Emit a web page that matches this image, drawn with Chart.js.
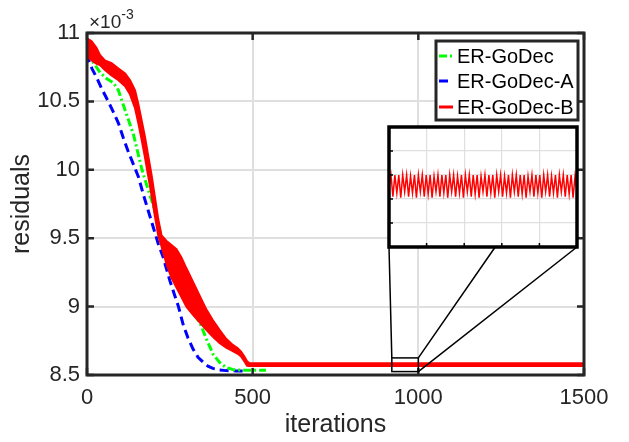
<!DOCTYPE html>
<html><head><meta charset="utf-8">
<script src="https://cdn.jsdelivr.net/npm/chart.js@4.4.1/dist/chart.umd.min.js"></script>
<style>
html,body{margin:0;padding:0;background:#fff;}
#wrap{position:relative;width:629px;height:442px;overflow:hidden;}
#main{position:absolute;left:0;top:0;}
#inset{position:absolute;}
</style></head><body>
<div id="wrap"><canvas id="main" width="629" height="442"></canvas><canvas id="inset"></canvas></div>
<script>
// ---------------- data (residuals in units of 1e-3) ----------------
const seriesNames = ['ER-GoDec', 'ER-GoDec-A', 'ER-GoDec-B'];
const xTicks = [0, 500, 1000, 1500];
const yTicks = [8.5, 9, 9.5, 10, 10.5, 11];
const xLabel = 'iterations';
const yLabel = 'residuals';

const greenIter = [0, 20, 40, 60, 80, 95, 106, 120, 140, 166, 180, 200, 220, 250, 290, 320, 341, 361, 381, 401, 420, 440, 470, 540];
const greenRes  = [10.86, 10.78, 10.71, 10.665, 10.635, 10.58, 10.50, 10.40, 10.26, 10.00, 9.89, 9.74, 9.55, 9.29, 9.07, 8.96, 8.88, 8.76, 8.65, 8.59, 8.555, 8.54, 8.535, 8.535];

const blueIter = [0, 5, 15, 30, 45, 64, 80, 95, 110, 125, 140, 155, 170, 185, 200, 215, 230, 250, 265, 276, 290, 305, 320, 335, 350, 365, 380, 400, 420, 450, 477];
const blueRes  = [10.85, 10.80, 10.74, 10.67, 10.59, 10.50, 10.42, 10.34, 10.23, 10.13, 10.04, 9.95, 9.82, 9.70, 9.58, 9.46, 9.36, 9.19, 9.08, 9.00, 8.87, 8.77, 8.69, 8.63, 8.595, 8.565, 8.548, 8.537, 8.532, 8.53, 8.53];

// ER-GoDec-B oscillates strongly: upper and lower envelope of its band
const redIter  = [0, 14, 29, 39, 54, 74, 95, 115, 130, 145, 155, 165, 175, 185, 195, 205, 215, 225, 240, 255, 270, 285, 300, 320, 340, 360, 380, 400, 420, 440, 455, 465, 475, 483, 490, 500, 1500];
const redUpper = [10.96, 10.94, 10.89, 10.84, 10.80, 10.78, 10.74, 10.705, 10.655, 10.58, 10.48, 10.36, 10.24, 10.10, 9.96, 9.80, 9.64, 9.52, 9.48, 9.45, 9.42, 9.36, 9.28, 9.18, 9.08, 8.98, 8.90, 8.83, 8.765, 8.72, 8.695, 8.67, 8.635, 8.60, 8.588, 8.586, 8.586];
const redLower = [10.83, 10.80, 10.775, 10.765, 10.73, 10.69, 10.655, 10.61, 10.55, 10.45, 10.34, 10.22, 10.09, 9.95, 9.81, 9.66, 9.52, 9.44, 9.31, 9.21, 9.14, 9.07, 9.00, 8.94, 8.885, 8.83, 8.78, 8.735, 8.70, 8.675, 8.655, 8.635, 8.60, 8.567, 8.566, 8.566, 8.566];

// zoomed window (iterations 920-1000) and the ER-GoDec-B samples shown in the inset
const zoomIter = [920, 1000];
const zoomRes  = [8.525, 8.625];
const insetRes = [8.575, 8.585, 8.567, 8.585, 8.570, 8.585, 8.566, 8.585, 8.571, 8.585, 8.567, 8.584, 8.570, 8.585, 8.566, 8.585, 8.571, 8.585, 8.567, 8.585, 8.569, 8.585, 8.566, 8.584, 8.571, 8.585, 8.567, 8.585, 8.570, 8.585, 8.566, 8.585, 8.571, 8.585, 8.567, 8.584, 8.570, 8.585, 8.566, 8.585, 8.571, 8.585, 8.567, 8.585, 8.569, 8.585, 8.566, 8.584, 8.571, 8.585, 8.567, 8.585, 8.570, 8.585, 8.566, 8.585, 8.571, 8.585, 8.567, 8.584, 8.570, 8.585, 8.566, 8.585, 8.571, 8.585, 8.567, 8.585, 8.569, 8.585, 8.566, 8.584, 8.571, 8.585, 8.567, 8.585, 8.570, 8.585, 8.566, 8.585, 8.571, 8.585, 8.567, 8.584, 8.570, 8.585, 8.566, 8.585, 8.571, 8.585, 8.567, 8.585, 8.569, 8.585, 8.566, 8.584, 8.572];

// ---------------- styling / layout ----------------
const FONT = "'Liberation Sans', Arial, Helvetica, sans-serif";
const AX = '#262626';
const GRID = '#dfdfdf';
const C_GREEN = '#00ff00', C_BLUE = '#0000ff', C_RED = '#ff0000';
const INSET = {left: 389, top: 127, right: 577, bottom: 247, pad: 3};

const pts = (xs, ys) => xs.map((v, i) => ({x: v, y: ys[i]}));

const mainDecor = {
  id: 'mainDecor',
  afterDatasetsDraw(chart) {
    const {ctx, chartArea: a, scales: {x, y}} = chart;
    ctx.save();
    // frame
    ctx.strokeStyle = AX;
    ctx.lineWidth = 3;
    ctx.strokeRect(a.left, a.top, a.right - a.left, a.bottom - a.top);
    // inward ticks
    ctx.lineWidth = 2.5;
    ctx.beginPath();
    yTicks.forEach(v => {
      const p = y.getPixelForValue(v);
      ctx.moveTo(a.left, p); ctx.lineTo(a.left + 7, p);
      ctx.moveTo(a.right, p); ctx.lineTo(a.right - 7, p);
    });
    xTicks.forEach(v => {
      const p = x.getPixelForValue(v);
      ctx.moveTo(p, a.bottom); ctx.lineTo(p, a.bottom - 7);
      ctx.moveTo(p, a.top); ctx.lineTo(p, a.top + 7);
    });
    ctx.stroke();
    // zoom rectangle and connectors
    const rx0 = x.getPixelForValue(zoomIter[0]), rx1 = x.getPixelForValue(zoomIter[1]);
    const ry0 = y.getPixelForValue(zoomRes[1]), ry1 = y.getPixelForValue(zoomRes[0]);
    ctx.strokeStyle = '#000';
    ctx.lineWidth = 1.5;
    ctx.strokeRect(rx0, ry0, rx1 - rx0, ry1 - ry0);
    ctx.beginPath();
    ctx.moveTo(rx0, ry0); ctx.lineTo(INSET.left, INSET.bottom);
    ctx.moveTo(rx1, ry0); ctx.lineTo(INSET.left + 0.565 * (INSET.right - INSET.left), INSET.bottom);
    ctx.moveTo(rx1, ry1); ctx.lineTo(INSET.right, INSET.bottom);
    ctx.stroke();
    // exponent label
    ctx.fillStyle = AX;
    ctx.textBaseline = 'alphabetic';
    ctx.textAlign = 'left';
    ctx.font = `19px ${FONT}`;
    const base = '\u00d710';
    ctx.fillText(base, a.left + 2, a.top - 5);
    const w = ctx.measureText(base).width;
    ctx.font = `14px ${FONT}`;
    ctx.fillText('-3', a.left + 2 + w, a.top - 14);
    // legend
    const L = {left: a.right - 148, top: a.top + 8, w: 142, h: 79};
    ctx.fillStyle = '#fff';
    ctx.fillRect(L.left, L.top, L.w, L.h);
    ctx.strokeStyle = AX;
    ctx.lineWidth = 3;
    ctx.strokeRect(L.left, L.top, L.w, L.h);
    const entries = [
      {name: seriesNames[0], ds: chart.data.datasets[2], dy: 15},
      {name: seriesNames[1], ds: chart.data.datasets[3], dy: 40},
      {name: seriesNames[2], ds: chart.data.datasets[0], dy: 66},
    ];
    ctx.font = `20px ${FONT}`;
    ctx.textBaseline = 'middle';
    entries.forEach(e => {
      const yy = L.top + e.dy;
      ctx.strokeStyle = e.ds.borderColor;
      ctx.lineWidth = 3;
      ctx.setLineDash(e.ds.borderDash || []);
      ctx.beginPath();
      ctx.moveTo(L.left + 3, yy); ctx.lineTo(L.left + 17, yy);
      ctx.stroke();
      ctx.setLineDash([]);
      ctx.fillStyle = '#000';
      ctx.fillText(e.name, L.left + 21, yy + 1);
    });
    ctx.restore();
  }
};

new Chart(document.getElementById('main'), {
  type: 'line',
  data: {
    datasets: [
      {label: seriesNames[2], data: pts(redIter, redUpper), borderColor: C_RED, backgroundColor: C_RED, borderWidth: 2, fill: '+1', order: 0},
      {label: seriesNames[2] + ' (lower)', data: pts(redIter, redLower), borderColor: C_RED, backgroundColor: C_RED, borderWidth: 2, fill: false, order: 0},
      {label: seriesNames[0], data: pts(greenIter, greenRes), borderColor: C_GREEN, borderWidth: 3, borderDash: [8, 3, 2, 3], fill: false, order: 1},
      {label: seriesNames[1], data: pts(blueIter, blueRes), borderColor: C_BLUE, borderWidth: 3, borderDash: [9, 5], fill: false, order: 2},
    ]
  },
  options: {
    responsive: false, animation: false, events: [],
    layout: {padding: {top: 33, right: 45, left: 0, bottom: 0}},
    elements: {point: {radius: 0}, line: {tension: 0, borderCapStyle: 'butt'}},
    plugins: {legend: {display: false}, tooltip: {enabled: false}},
    scales: {
      x: {
        type: 'linear', min: xTicks[0], max: xTicks[xTicks.length - 1],
        afterBuildTicks: s => { s.ticks = xTicks.map(v => ({value: v})); },
        ticks: {font: {family: FONT, size: 22}, color: AX, padding: 10, maxRotation: 0, callback: v => String(v)},
        grid: {color: GRID, lineWidth: 2, drawTicks: false},
        border: {display: false},
        title: {display: true, text: xLabel, font: {family: FONT, size: 25}, color: AX, padding: {top: 0, bottom: 2}},
        afterFit: s => { s.height = 67; }
      },
      y: {
        type: 'linear', min: yTicks[0], max: yTicks[yTicks.length - 1],
        afterBuildTicks: s => { s.ticks = yTicks.map(v => ({value: v})); },
        ticks: {font: {family: FONT, size: 22}, color: AX, padding: 7, callback: v => String(v)},
        grid: {color: GRID, lineWidth: 2, drawTicks: false},
        border: {display: false},
        title: {display: true, text: yLabel, font: {family: FONT, size: 25}, color: AX, padding: {top: 7, bottom: 0}},
        afterFit: s => { s.width = 87; }
      }
    }
  },
  plugins: [mainDecor]
});

// ---------------- inset ----------------
const insetCanvas = document.getElementById('inset');
insetCanvas.width = INSET.right - INSET.left + 2 * INSET.pad;
insetCanvas.height = INSET.bottom - INSET.top + 2 * INSET.pad;
insetCanvas.style.left = (INSET.left - INSET.pad) + 'px';
insetCanvas.style.top = (INSET.top - INSET.pad) + 'px';

const insetDecor = {
  id: 'insetDecor',
  beforeDraw(chart) {
    const {ctx, chartArea: a} = chart;
    ctx.save();
    ctx.fillStyle = '#fff';
    ctx.fillRect(a.left, a.top, a.right - a.left, a.bottom - a.top);
    ctx.restore();
  },
  afterDraw(chart) {
    const {ctx, chartArea: a, scales: {x, y}} = chart;
    ctx.save();
    ctx.strokeStyle = '#000';
    ctx.lineWidth = 1.5;
    ctx.beginPath();
    y.ticks.forEach(t => { const p = y.getPixelForValue(t.value); ctx.moveTo(a.left, p); ctx.lineTo(a.left + 4, p); });
    x.ticks.forEach(t => { const p = x.getPixelForValue(t.value); ctx.moveTo(p, a.bottom); ctx.lineTo(p, a.bottom - 4); });
    ctx.stroke();
    ctx.lineWidth = 3.5;
    ctx.strokeRect(a.left, a.top, a.right - a.left, a.bottom - a.top);
    ctx.restore();
  }
};

const fiveSteps = s => { s.ticks = [0, 1, 2, 3, 4, 5].map(k => ({value: s.min + k * (s.max - s.min) / 5})); };
new Chart(insetCanvas, {
  type: 'line',
  data: {datasets: [{label: seriesNames[2], data: insetRes.map((v, i) => ({x: i, y: v})), borderColor: C_RED, borderWidth: 1.5, fill: false}]},
  options: {
    responsive: false, animation: false, events: [],
    layout: {padding: INSET.pad},
    elements: {point: {radius: 0}, line: {tension: 0}},
    plugins: {legend: {display: false}, tooltip: {enabled: false}},
    scales: {
      x: {type: 'linear', min: 0, max: insetRes.length - 1, afterBuildTicks: fiveSteps,
          ticks: {display: false}, grid: {color: GRID, lineWidth: 1.2, drawTicks: false}, border: {display: false},
          afterFit: s => { s.height = 0; }},
      y: {type: 'linear', min: zoomRes[0], max: zoomRes[1], afterBuildTicks: fiveSteps,
          ticks: {display: false}, grid: {color: GRID, lineWidth: 1.2, drawTicks: false}, border: {display: false},
          afterFit: s => { s.width = 0; }}
    }
  },
  plugins: [insetDecor]
});
</script>
</body></html>
